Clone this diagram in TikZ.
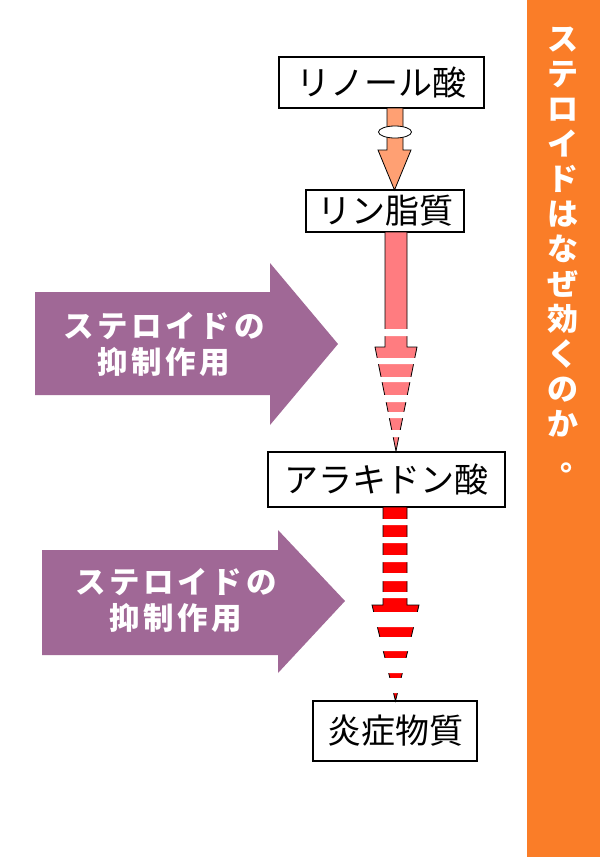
\documentclass[tikz,border=0pt]{standalone}
\usepackage{fontspec}
\newfontfamily\jpfont{Noto Sans CJK JP}
\newfontfamily\jpwide{Noto Sans CJK JP}[LetterSpace=12]
\usepackage{tikz}
\usetikzlibrary{calc, shapes.geometric}
\definecolor{titleorange}{RGB}{250, 125, 40}
\definecolor{steroidpurple}{RGB}{160, 104, 150}
\definecolor{linolsalmon}{RGB}{255, 160, 115}
\definecolor{lipidpink}{RGB}{255, 124, 128}
\definecolor{arared}{RGB}{255, 0, 0}
\tikzset{
    substbox/.style={draw, line width=1.5pt, fill=white, inner sep=0pt, font=\jpfont\fontsize{34}{40}\selectfont},
    blockarrow/.style={draw=black, line width=0.8pt},
    inhibarrow/.style={fill=steroidpurple},
    inhibtext/.style={text=white, align=center, font=\jpwide\bfseries\fontsize{30.5}{36}\selectfont},
    titletext/.style={text=white, align=center, inner sep=0pt, font=\jpfont\bfseries\fontsize{31}{35}\selectfont},
}

\begin{document}
\begin{tikzpicture}[x=1pt, y=-1pt]
    % page
    \fill[white] (0,0) rectangle (600,857);
    \useasboundingbox (0,0) rectangle (600,857);

    % Title bar
    \fill[titleorange] (527,0) rectangle (600,857);
    \node[titletext] (title) at (563,250) {ス\\テ\\ロ\\イ\\ド\\は\\な\\ぜ\\効\\く\\の\\か\\\hspace*{0.85em}。};

    % Substances
    \node[substbox, minimum width=205pt, minimum height=51pt] (linole) at (381.5,82.5) {リノール酸};
    \node[substbox, minimum width=158pt, minimum height=42pt] (lipid) at (385,211) {リン脂質};
    \node[substbox, minimum width=237pt, minimum height=55pt] (arachi) at (386.5,479.5) {アラキドン酸};
    \node[substbox, minimum width=164pt, minimum height=60pt] (inflam) at (395,731) {炎症物質};

    % linole -> lipid
    \draw[blockarrow, fill=linolsalmon] (387,108) -- (387,150) -- (378,150) -- (394.5,190)
        -- (411,150) -- (403,150) -- (403,108) -- cycle;
    \node[draw, fill=white, ellipse, line width=0.8pt, minimum width=33pt, minimum height=12pt, inner sep=0pt] (enzyme) at (395,132) {};

    % lipid -> arachi (cut)
    \draw[blockarrow, fill=lipidpink] (385,232) -- (385,347) -- (375,347) -- (396,451)
        -- (417,347) -- (407,347) -- (407,232) -- cycle;
    \fill[white] (370,329) rectangle (425,336) (370,358) rectangle (425,364)
        (370,377) rectangle (425,382) (370,395) rectangle (425,402)
        (370,412) rectangle (425,418) (370,430) rectangle (425,437);

    % arachi -> inflam (cut)
    \draw[blockarrow, fill=arared] (383,507) -- (383,605) -- (372,605) -- (395.5,701)
        -- (419,605) -- (407,605) -- (407,507) -- cycle;
    \fill[white] (365,519) rectangle (425,525) (365,537) rectangle (425,543)
        (365,555) rectangle (425,562) (365,573) rectangle (425,581)
        (365,592) rectangle (425,598) (365,612) rectangle (425,627)
        (365,637) rectangle (425,651) (365,658) rectangle (425,673)
        (365,678) rectangle (425,693);

    % Steroid inhibition
    \fill[inhibarrow] (35,292) -- (270,292) -- (270,263) -- (338,344) -- (270,425)
        -- (270,395) -- (35,395) -- cycle;
    \node[inhibtext] (inhib1) at (164,344) {ステロイドの\\抑制作用};
    \fill[inhibarrow] (42,550) -- (278,550) -- (278,530) -- (345,601) -- (278,673)
        -- (278,655) -- (42,655) -- cycle;
    \node[inhibtext] (inhib2) at (176,600) {ステロイドの\\抑制作用};
\end{tikzpicture}
\end{document}
